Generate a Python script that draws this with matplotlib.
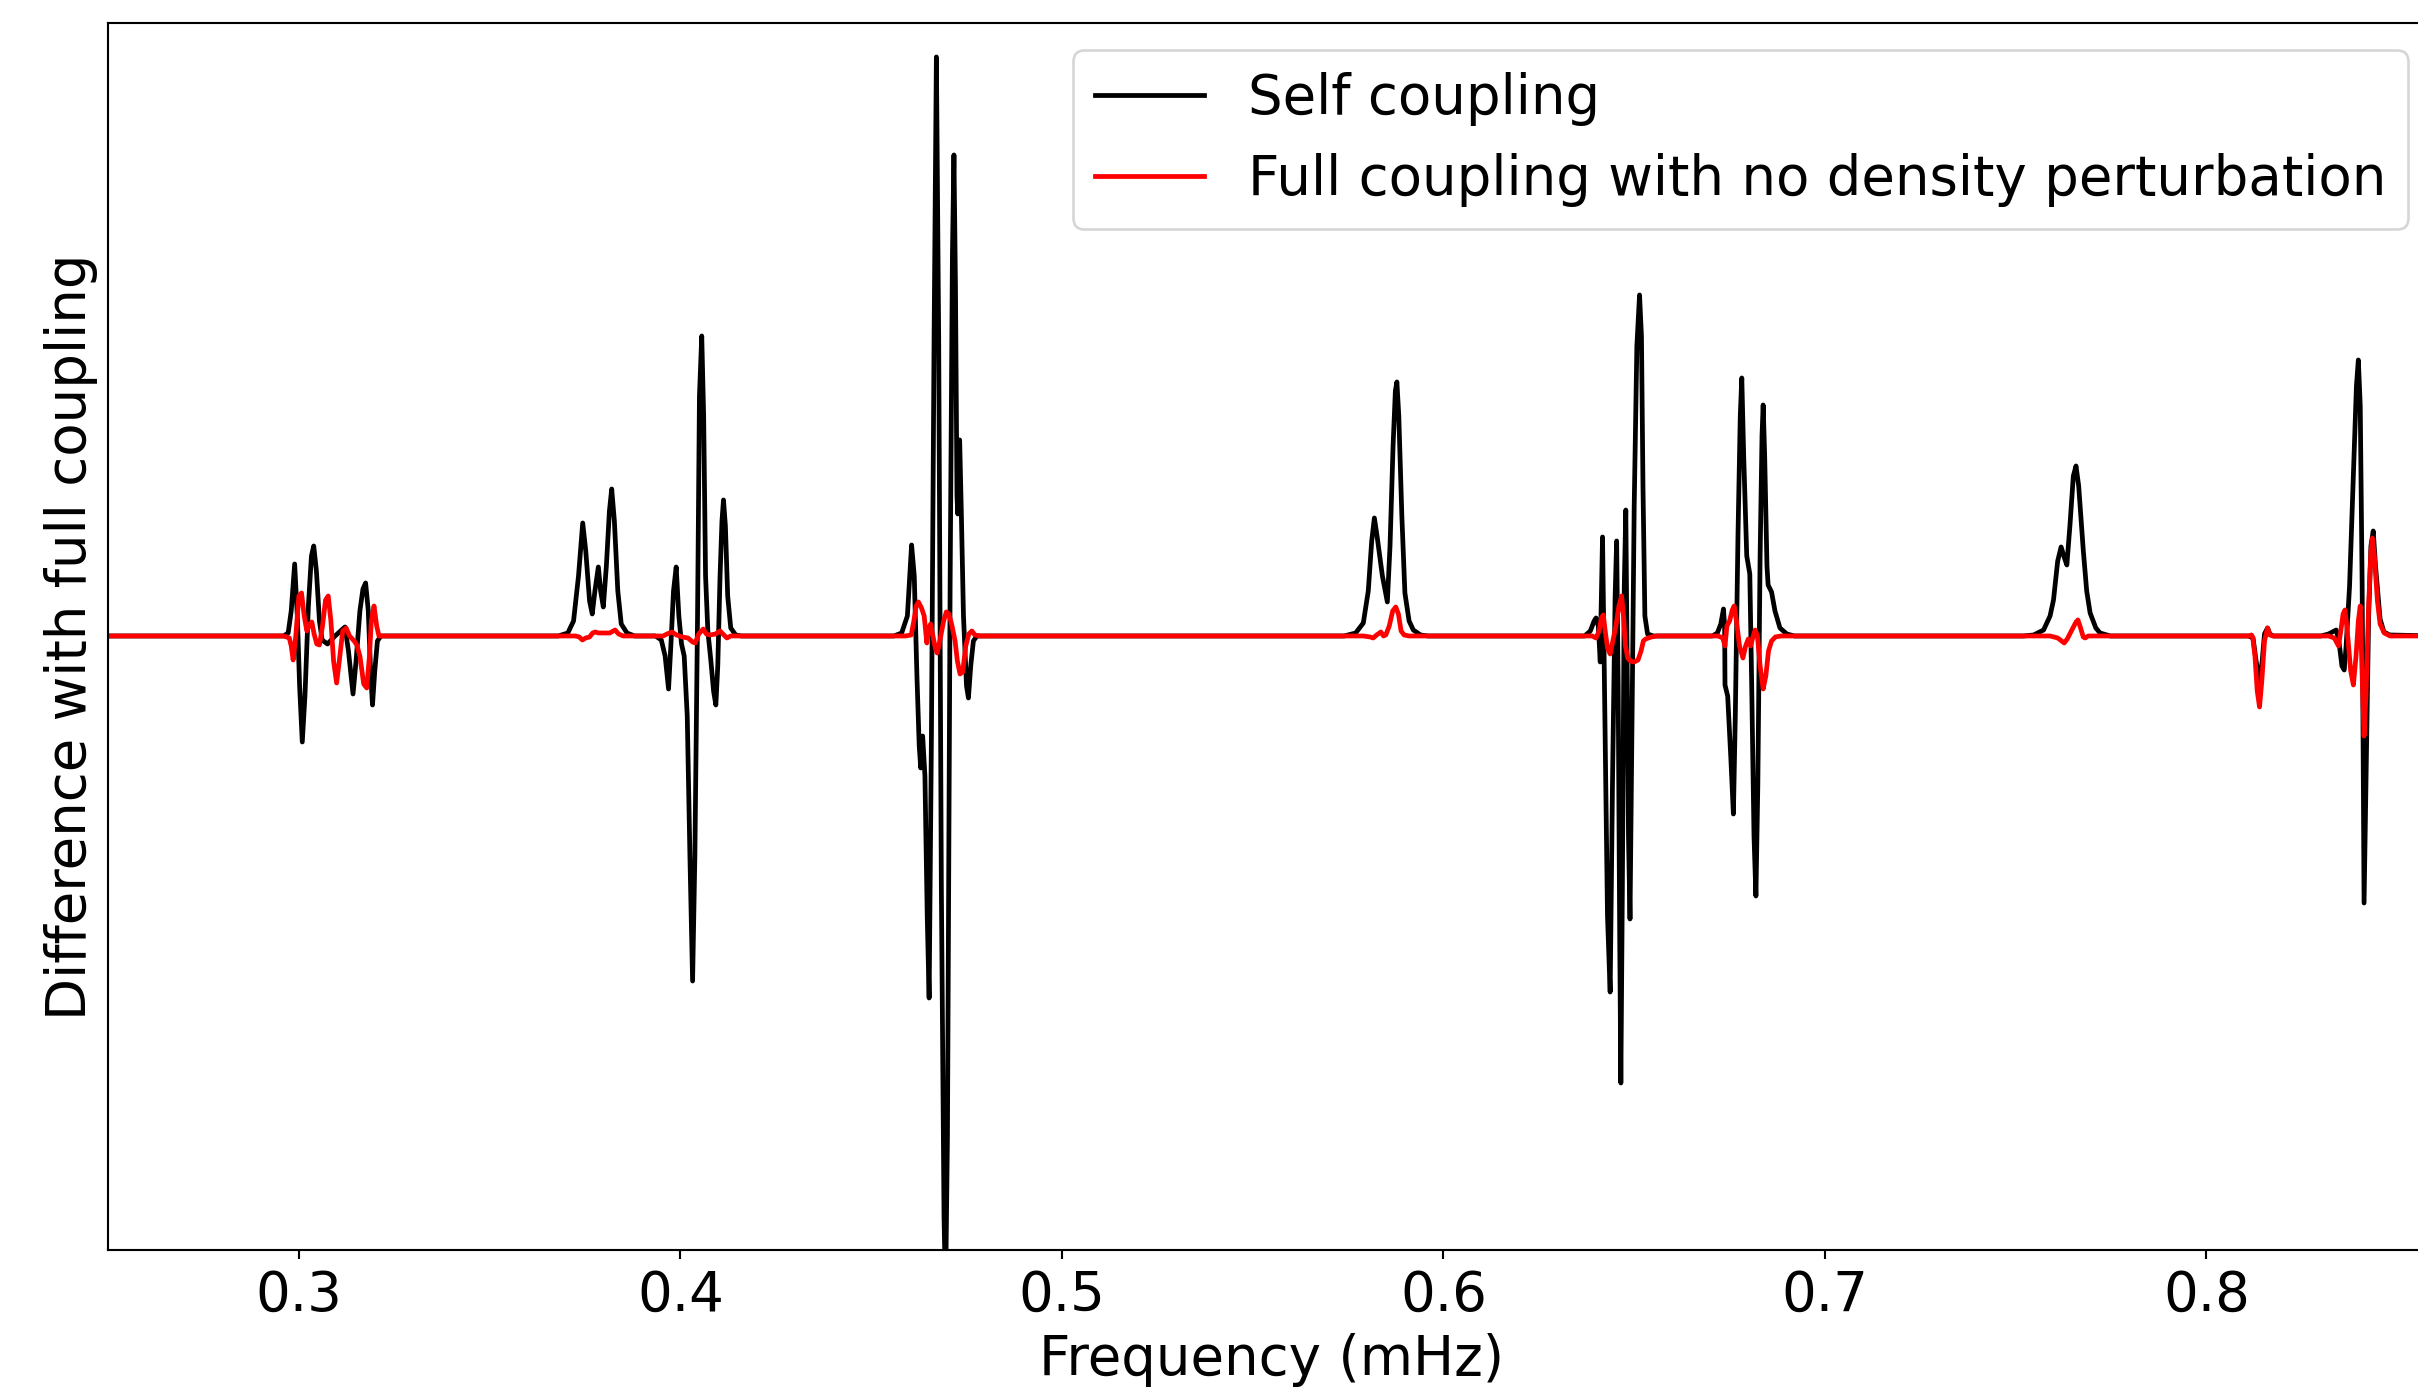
import matplotlib
matplotlib.use('Agg')
import numpy as np
import matplotlib.pyplot as plt

# (frequency in mHz, difference), one list per group of modes
self_030 = [(0.2500, 0), (0.2960, 0), (0.2972, 0.03), (0.2980, 0.25), (0.2989, 0.72), (0.2996, 0.20),
            (0.3002, -0.50), (0.3009, -1.06), (0.3016, -0.60), (0.3025, 0.30), (0.3033, 0.80),
            (0.3039, 0.90), (0.3046, 0.65), (0.3054, 0.15), (0.3061, -0.04), (0.3075, -0.08),
            (0.3095, 0.00), (0.3112, 0.06), (0.3121, 0.09), (0.3130, -0.15), (0.3142, -0.58),
            (0.3150, -0.25), (0.3160, 0.25), (0.3168, 0.47), (0.3175, 0.53), (0.3182, 0.25),
            (0.3188, -0.35), (0.3193, -0.69), (0.3199, -0.35), (0.3206, -0.05), (0.3215, 0)]
self_038 = [(0.3680, 0), (0.3705, 0.03), (0.3720, 0.15), (0.3733, 0.60), (0.3744, 1.13), (0.3752, 0.85),
            (0.3762, 0.35), (0.3769, 0.22), (0.3776, 0.45), (0.3785, 0.69), (0.3791, 0.45),
            (0.3798, 0.29), (0.3806, 0.70), (0.3814, 1.25), (0.3820, 1.47), (0.3827, 1.15),
            (0.3836, 0.45), (0.3845, 0.12), (0.3860, 0.03), (0.3880, 0)]
self_040 = [(0.3935, 0), (0.3950, -0.04), (0.3960, -0.20), (0.3969, -0.53), (0.3975, -0.10), (0.3982, 0.45),
            (0.3989, 0.69), (0.3996, 0.20), (0.4003, -0.08), (0.4010, -0.20), (0.4018, -0.80),
            (0.4025, -2.20), (0.4032, -3.45), (0.4038, -2.20), (0.4045, 0.20), (0.4050, 2.40),
            (0.4056, 3.00), (0.4061, 2.20), (0.4066, 0.60), (0.4072, 0.05), (0.4080, -0.25),
            (0.4087, -0.55), (0.4093, -0.69), (0.4098, -0.30), (0.4104, 0.60), (0.4109, 1.15),
            (0.4113, 1.36), (0.4118, 1.10), (0.4124, 0.40), (0.4132, 0.08), (0.4145, 0.01), (0.4160, 0)]
self_047 = [(0.4560, 0), (0.4580, 0.03), (0.4595, 0.20), (0.4606, 0.91), (0.4613, 0.60), (0.4620, -0.40),
            (0.4626, -1.10), (0.4630, -1.32), (0.4635, -1.00), (0.4641, -1.40), (0.4647, -2.80),
            (0.4652, -3.62), (0.4658, -1.00), (0.4665, 3.00), (0.4671, 5.79), (0.4677, 3.00),
            (0.4684, -2.50), (0.4691, -5.80), (0.4695, -6.60), (0.4700, -5.00), (0.4707, 0.50),
            (0.4713, 3.80), (0.4717, 4.81), (0.4721, 3.50), (0.4725, 1.40), (0.4727, 1.22),
            (0.4729, 1.90), (0.4732, 1.96), (0.4736, 1.30), (0.4742, 0.20), (0.4750, -0.50),
            (0.4755, -0.62), (0.4761, -0.30), (0.4768, -0.05), (0.4777, 0), (0.4790, 0)]
self_058 = [(0.5740, 0), (0.5770, 0.03), (0.5790, 0.13), (0.5803, 0.45), (0.5812, 0.95), (0.5819, 1.18),
            (0.5826, 1.00), (0.5840, 0.60), (0.5853, 0.34), (0.5860, 0.90), (0.5868, 1.90),
            (0.5874, 2.45), (0.5878, 2.54), (0.5883, 2.20), (0.5891, 1.20), (0.5899, 0.43),
            (0.5910, 0.15), (0.5921, 0.06), (0.5940, 0.01), (0.5960, 0)]
self_065 = [(0.6370, 0), (0.6385, 0.05), (0.6395, 0.15), (0.6400, 0.18), (0.6406, 0.10), (0.6411, -0.26),
            (0.6413, 0.20), (0.6417, 0.99), (0.6422, -0.50), (0.6430, -2.80), (0.6437, -3.56),
            (0.6443, -1.50), (0.6450, 0.40), (0.6454, 0.95), (0.6458, -0.50), (0.6462, -3.00),
            (0.6465, -4.47), (0.6469, -2.50), (0.6474, 0.50), (0.6478, 1.26), (0.6482, -0.50),
            (0.6485, -2.00), (0.6489, -2.83), (0.6494, -1.00), (0.6500, 1.30), (0.6507, 2.90),
            (0.6514, 3.41), (0.6519, 3.00), (0.6523, 1.50), (0.6528, 0.20), (0.6535, 0.02), (0.6550, 0)]
self_068 = [(0.6705, 0), (0.6718, 0.03), (0.6727, 0.12), (0.6734, 0.27), (0.6737, 0.10), (0.6738, -0.49),
            (0.6745, -0.60), (0.6753, -1.20), (0.6760, -1.78), (0.6765, -0.80), (0.6772, 1.00),
            (0.6778, 2.20), (0.6782, 2.58), (0.6787, 1.80), (0.6795, 0.80), (0.6803, 0.62),
            (0.6808, -0.50), (0.6814, -2.00), (0.6819, -2.60), (0.6824, -1.50), (0.6830, 0.80),
            (0.6835, 2.00), (0.6838, 2.31), (0.6842, 1.80), (0.6848, 0.70), (0.6851, 0.51),
            (0.6860, 0.44), (0.6869, 0.25), (0.6882, 0.08), (0.6900, 0.02), (0.6920, 0)]
self_076 = [(0.7520, 0), (0.7547, 0.01), (0.7573, 0.06), (0.7590, 0.20), (0.7599, 0.36), (0.7610, 0.75),
            (0.7619, 0.89), (0.7626, 0.80), (0.7634, 0.71), (0.7642, 1.10), (0.7651, 1.60),
            (0.7658, 1.70), (0.7665, 1.50), (0.7677, 0.86), (0.7686, 0.45), (0.7695, 0.23),
            (0.7710, 0.08), (0.7721, 0.03), (0.7748, 0)]
self_083 = [(0.8110, 0), (0.8122, -0.02), (0.8130, -0.25), (0.8139, -0.47), (0.8146, -0.25), (0.8152, 0.02),
            (0.8160, 0.08), (0.8166, 0.02), (0.8175, 0), (0.8300, 0), (0.8320, 0.02), (0.8335, 0.05),
            (0.8340, 0.06), (0.8347, -0.05), (0.8355, -0.30), (0.8361, -0.34), (0.8366, -0.10),
            (0.8375, 0.50), (0.8385, 1.60), (0.8393, 2.50), (0.8398, 2.76), (0.8403, 2.30),
            (0.8408, 0.50), (0.8413, -2.67), (0.8418, -1.50), (0.8425, 0.20), (0.8431, 0.90),
            (0.8437, 1.05), (0.8443, 0.70), (0.8455, 0.17), (0.8465, 0.04), (0.8480, 0.01), (0.8600, 0)]

full_030 = [(0.2500, 0), (0.2960, 0), (0.2975, -0.02), (0.2980, -0.10), (0.2985, -0.24), (0.2992, 0.00),
            (0.3000, 0.40), (0.3007, 0.43), (0.3014, 0.20), (0.3021, 0.05), (0.3028, 0.12),
            (0.3034, 0.14), (0.3040, 0.02), (0.3047, -0.08), (0.3054, -0.09), (0.3062, 0.10),
            (0.3070, 0.36), (0.3077, 0.40), (0.3084, 0.15), (0.3091, -0.25), (0.3099, -0.47),
            (0.3106, -0.25), (0.3115, 0.05), (0.3124, 0.08), (0.3133, 0.00), (0.3145, -0.05),
            (0.3152, -0.09), (0.3160, -0.20), (0.3170, -0.48), (0.3178, -0.52), (0.3185, -0.20),
            (0.3190, 0.15), (0.3197, 0.30), (0.3204, 0.10), (0.3210, 0.0), (0.3220, 0)]
full_038 = [(0.3725, 0), (0.3735, -0.01), (0.3743, -0.04), (0.3752, -0.02), (0.3762, -0.01), (0.3770, 0.03),
            (0.3777, 0.04), (0.3785, 0.03), (0.3800, 0.03), (0.3815, 0.03), (0.3829, 0.06),
            (0.3838, 0.02), (0.3850, 0)]
full_040 = [(0.3955, 0), (0.3965, 0.02), (0.3978, 0.04), (0.3990, 0.01), (0.4005, -0.01), (0.4020, -0.02),
            (0.4032, -0.06), (0.4039, -0.07), (0.4048, 0.02), (0.4060, 0.07), (0.4068, 0.02),
            (0.4078, 0.01), (0.4092, 0.02), (0.4104, 0.05), (0.4114, 0.01), (0.4122, -0.02), (0.4132, 0.0)]
full_047 = [(0.4590, 0), (0.4605, 0.01), (0.4612, 0.15), (0.4618, 0.30), (0.4624, 0.34), (0.4632, 0.28),
            (0.4639, 0.20), (0.4643, 0.05), (0.4646, -0.07), (0.4651, 0.08), (0.4656, 0.12),
            (0.4662, 0.00), (0.4668, -0.12), (0.4673, -0.17), (0.4680, -0.05), (0.4690, 0.15),
            (0.4697, 0.24), (0.4704, 0.22), (0.4712, 0.10), (0.4720, -0.05), (0.4726, -0.25),
            (0.4733, -0.38), (0.4740, -0.36), (0.4748, -0.10), (0.4756, 0.02), (0.4764, 0.05),
            (0.4772, 0.01), (0.4785, 0)]
full_058 = [(0.5790, 0), (0.5808, -0.01), (0.5816, -0.02), (0.5825, 0.01), (0.5836, 0.04), (0.5843, 0.00),
            (0.5849, 0.01), (0.5858, 0.10), (0.5867, 0.25), (0.5875, 0.29), (0.5882, 0.22),
            (0.5889, 0.05), (0.5897, 0.01), (0.5910, 0)]
full_065 = [(0.6390, 0), (0.6400, -0.02), (0.6408, 0.05), (0.6414, 0.18), (0.6419, 0.21), (0.6424, 0.05),
            (0.6430, -0.12), (0.6437, -0.18), (0.6444, -0.05), (0.6452, 0.10), (0.6460, 0.30),
            (0.6467, 0.40), (0.6472, 0.20), (0.6477, -0.10), (0.6483, -0.22), (0.6490, -0.25),
            (0.6500, -0.26), (0.6510, -0.24), (0.6518, -0.15), (0.6524, -0.05), (0.6530, -0.03),
            (0.6545, -0.01), (0.6560, 0)]
full_068 = [(0.6720, 0), (0.6732, -0.02), (0.6738, -0.10), (0.6743, 0.10), (0.6750, 0.15), (0.6757, 0.26),
            (0.6762, 0.30), (0.6768, 0.15), (0.6776, -0.10), (0.6785, -0.22), (0.6792, -0.10),
            (0.6799, -0.03), (0.6805, -0.10), (0.6812, 0.00), (0.6817, 0.06), (0.6823, 0.00),
            (0.6830, -0.30), (0.6838, -0.53), (0.6845, -0.40), (0.6852, -0.15), (0.6860, -0.05),
            (0.6870, -0.01), (0.6885, 0)]
full_076 = [(0.7590, 0), (0.7610, -0.02), (0.7620, -0.05), (0.7627, -0.07), (0.7635, -0.03), (0.7650, 0.08),
            (0.7658, 0.14), (0.7663, 0.16), (0.7670, 0.08), (0.7677, -0.01), (0.7682, -0.02),
            (0.7690, 0.0), (0.7700, 0)]
full_083 = [(0.8110, 0), (0.8118, 0.01), (0.8121, -0.01), (0.8127, -0.20), (0.8133, -0.55), (0.8139, -0.71),
            (0.8145, -0.45), (0.8152, -0.05), (0.8160, 0.08), (0.8166, 0.01), (0.8175, 0),
            (0.8320, 0), (0.8335, -0.02), (0.8346, -0.10), (0.8352, 0.05), (0.8358, 0.22),
            (0.8363, 0.26), (0.8369, 0.05), (0.8378, -0.35), (0.8385, -0.49), (0.8392, -0.20),
            (0.8398, 0.15), (0.8403, 0.30), (0.8408, -0.40), (0.8413, -1.00), (0.8418, -0.60),
            (0.8425, 0.30), (0.8431, 0.85), (0.8435, 0.98), (0.8440, 0.80), (0.8448, 0.35),
            (0.8455, 0.12), (0.8466, 0.03), (0.8481, 0.0), (0.8600, 0)]

self_all = np.array(self_030 + self_038 + self_040 + self_047 + self_058
                    + self_065 + self_068 + self_076 + self_083)
full_all = np.array(full_030 + full_038 + full_040 + full_047 + full_058
                    + full_065 + full_068 + full_076 + full_083)

plt.rcParams['font.size'] = 20.7
fig = plt.figure(figsize=(2418 / 190, 1390 / 190), dpi=190)
ax = fig.add_axes([0.0447, 0.1007, 0.9625, 0.8828])

ax.plot(self_all[:, 0], self_all[:, 1], '-', color='black', lw=1.8, label="Self coupling")
ax.plot(full_all[:, 0], full_all[:, 1], '-', color='red', lw=1.8,
        label="Full coupling with no density perturbation")

ax.set_xlim(0.25, 0.86)
ax.set_ylim(-6.14, 6.13)
ax.set_xticks([0.3, 0.4, 0.5, 0.6, 0.7, 0.8])
ax.set_yticks([])
ax.set_xlabel("Frequency (mHz)")
ax.set_ylabel("Difference with full coupling")
ax.legend(loc='upper right')

fig.savefig("out.png", dpi=190)
